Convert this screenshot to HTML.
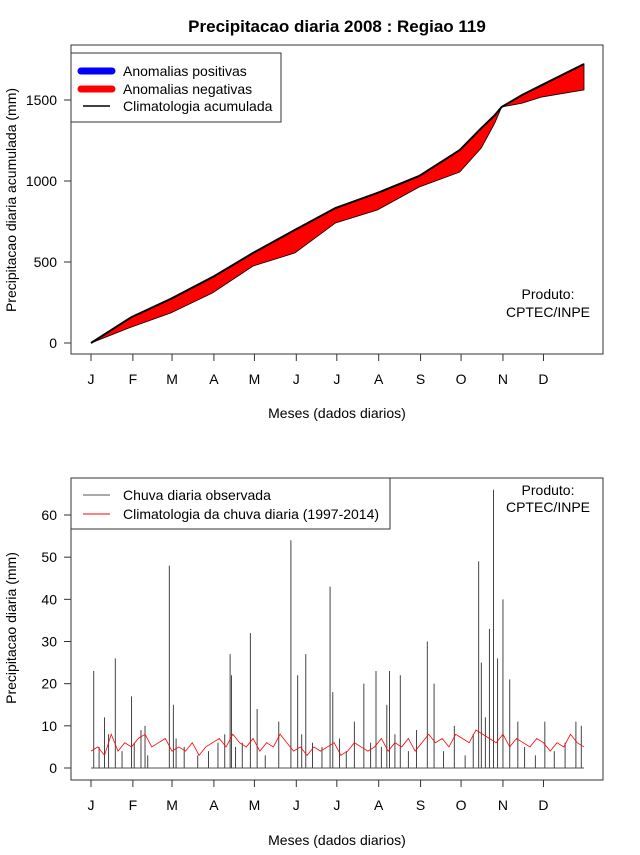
<!DOCTYPE html>
<html><head><meta charset="utf-8"><style>
body{margin:0;background:#fff}
svg text{font-family:"Liberation Sans",sans-serif;fill:#000}
</style></head><body>
<svg id="c" width="640" height="850" xmlns="http://www.w3.org/2000/svg">
<text x="337" y="32" text-anchor="middle" font-size="17" font-weight="bold">Precipitacao diaria 2008 : Regiao 119</text>
<rect x="71" y="45" width="532" height="309" fill="none" stroke="#333"/>
<rect x="71" y="478" width="532" height="302" fill="none" stroke="#333"/>
<g id="topg"></g>
<g id="botg"></g>
<text x="16" y="200" transform="rotate(-90 16 200)" text-anchor="middle" font-size="14">Precipitacao diaria acumulada (mm)</text>
<text x="337" y="418" text-anchor="middle" font-size="14">Meses (dados diarios)</text>
<text x="16" y="628" transform="rotate(-90 16 628)" text-anchor="middle" font-size="14">Precipitacao diaria (mm)</text>
<text x="337" y="845" text-anchor="middle" font-size="14">Meses (dados diarios)</text>
<text x="548" y="299" text-anchor="middle" font-size="14">Produto:</text>
<text x="548" y="317" text-anchor="middle" font-size="14">CPTEC/INPE</text>
<text x="548" y="495" text-anchor="middle" font-size="14">Produto:</text>
<text x="548" y="512" text-anchor="middle" font-size="14">CPTEC/INPE</text>
<g>
<rect x="71" y="53" width="210" height="69" fill="#fff" stroke="#333"/>
<line x1="81" y1="71" x2="112" y2="71" stroke="#00f" stroke-width="7" stroke-linecap="round"/>
<text x="123" y="76" font-size="14">Anomalias positivas</text>
<line x1="81" y1="89" x2="112" y2="89" stroke="#f00" stroke-width="7" stroke-linecap="round"/>
<text x="123" y="94" font-size="14">Anomalias negativas</text>
<line x1="83" y1="106" x2="110" y2="106" stroke="#000" stroke-width="1.5"/>
<text x="123" y="111" font-size="14">Climatologia acumulada</text>
</g>
<g>
<rect x="71" y="478" width="319" height="51" fill="#fff" stroke="#333"/>
<line x1="83" y1="495" x2="110" y2="495" stroke="#555"/>
<text x="123" y="500" font-size="14">Chuva diaria observada</text>
<line x1="83" y1="514" x2="110" y2="514" stroke="#f00"/>
<text x="123" y="519" font-size="14">Climatologia da chuva diaria (1997-2014)</text>
</g>
</svg>
<script>
const months=["J","F","M","A","M","J","J","A","S","O","N","D"];
const monthStartDays=[1,32,61,92,122,153,183,214,245,275,306,336];
const cumDays=[1,31,60,91,121,152,182,213,244,274,290,300,305,320,335,366];
const cumClim=[0,160,272,407,556,698,833,926,1031,1191,1327,1407,1457,1530,1593,1722];
const cumObs=[0,99,185,309,475,556,741,821,963,1055,1204,1358,1457,1480,1519,1562];
const topTicks=[0,500,1000,1500];
const botTicks=[0,10,20,30,40,50,60];
const rainDays=[3,7,11,14,19,24,31,33,38,41,43,59,62,64,70,80,88,95,100,104,105,108,113,119,124,130,140,149,154,157,160,165,172,178,180,185,190,196,203,208,212,216,220,222,226,230,236,242,250,255,262,270,278,284,288,290,293,296,299,302,306,311,317,322,330,337,344,352,360,364];
const rainVals=[23,5,12,8,26,4,17,6,9,10,3,48,15,7,5,3,4,6,8,27,22,5,6,32,14,3,11,54,22,8,27,6,5,43,18,7,4,11,20,6,23,5,15,23,8,22,4,9,30,20,4,10,3,8,49,25,12,33,66,26,40,21,11,5,3,11,4,6,11,10];
const climVals=[4,5,3,8,4,6,5,7,8,5,6,7,4,5,4,6,3,5,6,7,5,8,6,5,7,4,6,5,8,6,4,5,3,5,4,5,6,3,4,6,5,4,5,7,4,6,5,7,4,6,8,6,7,5,8,7,6,9,8,7,6,8,5,7,6,5,7,6,4,6,5,8,6,5];
const NS="http://www.w3.org/2000/svg";
const xD=d=>91+(d-1)*(493/365);
const yT=v=>343-v*(81/500);
const yB=v=>768-v*(253/60);
function mk(p,t,a){const e=document.createElementNS(NS,t);for(const k in a)e.setAttribute(k,a[k]);p.appendChild(e);return e;}
const gTop=document.getElementById('topg'),gBot=document.getElementById('botg');
function xAxis(g,yb,name){
  mk(g,'line',{x1:xD(1),x2:xD(336),y1:yb,y2:yb,stroke:'#333'});
  monthStartDays.forEach((d,i)=>{
    mk(g,'line',{x1:xD(d),x2:xD(d),y1:yb,y2:yb+7,stroke:'#333'});
    const t=mk(g,'text',{x:xD(d),y:yb+30,'text-anchor':'middle','font-size':14});
    t.textContent=months[i];
    
    
  });
}
xAxis(gTop,354,'top-x');xAxis(gBot,780,'bottom-x');
mk(gTop,'line',{x1:71,x2:71,y1:yT(0),y2:yT(1500),stroke:'#333'});
topTicks.forEach(v=>{mk(gTop,'line',{x1:64,x2:71,y1:yT(v),y2:yT(v),stroke:'#333'});
 const t=mk(gTop,'text',{x:57,y:yT(v)+5,'text-anchor':'end','font-size':14});t.textContent=v;
 
 });
mk(gBot,'line',{x1:71,x2:71,y1:yB(0),y2:yB(60),stroke:'#333'});
botTicks.forEach(v=>{mk(gBot,'line',{x1:64,x2:71,y1:yB(v),y2:yB(v),stroke:'#333'});
 const t=mk(gBot,'text',{x:57,y:yB(v)+5,'text-anchor':'end','font-size':14});t.textContent=v;
 
 });
let pts=cumDays.map((d,i)=>xD(d)+','+yT(cumClim[i]));
pts=pts.concat(cumDays.map((d,i)=>xD(d)+','+yT(cumObs[i])).reverse());
const area=mk(gTop,'polygon',{points:pts.join(' '),fill:'#f00',stroke:'#000','stroke-width':0.8});


const cl=mk(gTop,'polyline',{points:cumDays.map((d,i)=>xD(d)+','+yT(cumClim[i])).join(' '),fill:'none',stroke:'#000','stroke-width':2});


const base=mk(gBot,'line',{x1:xD(1),x2:xD(366),y1:yB(0),y2:yB(0),stroke:'#555'});


rainDays.forEach((d,i)=>{const b=mk(gBot,'line',{x1:xD(d),x2:xD(d),y1:yB(0),y2:yB(rainVals[i]),stroke:'#444'});
 
 });
const cp=mk(gBot,'polyline',{points:climVals.map((v,i)=>xD(1+i*5)+','+yB(v)).join(' '),fill:'none',stroke:'#f00','stroke-width':0.8});


</script>
</body></html>
